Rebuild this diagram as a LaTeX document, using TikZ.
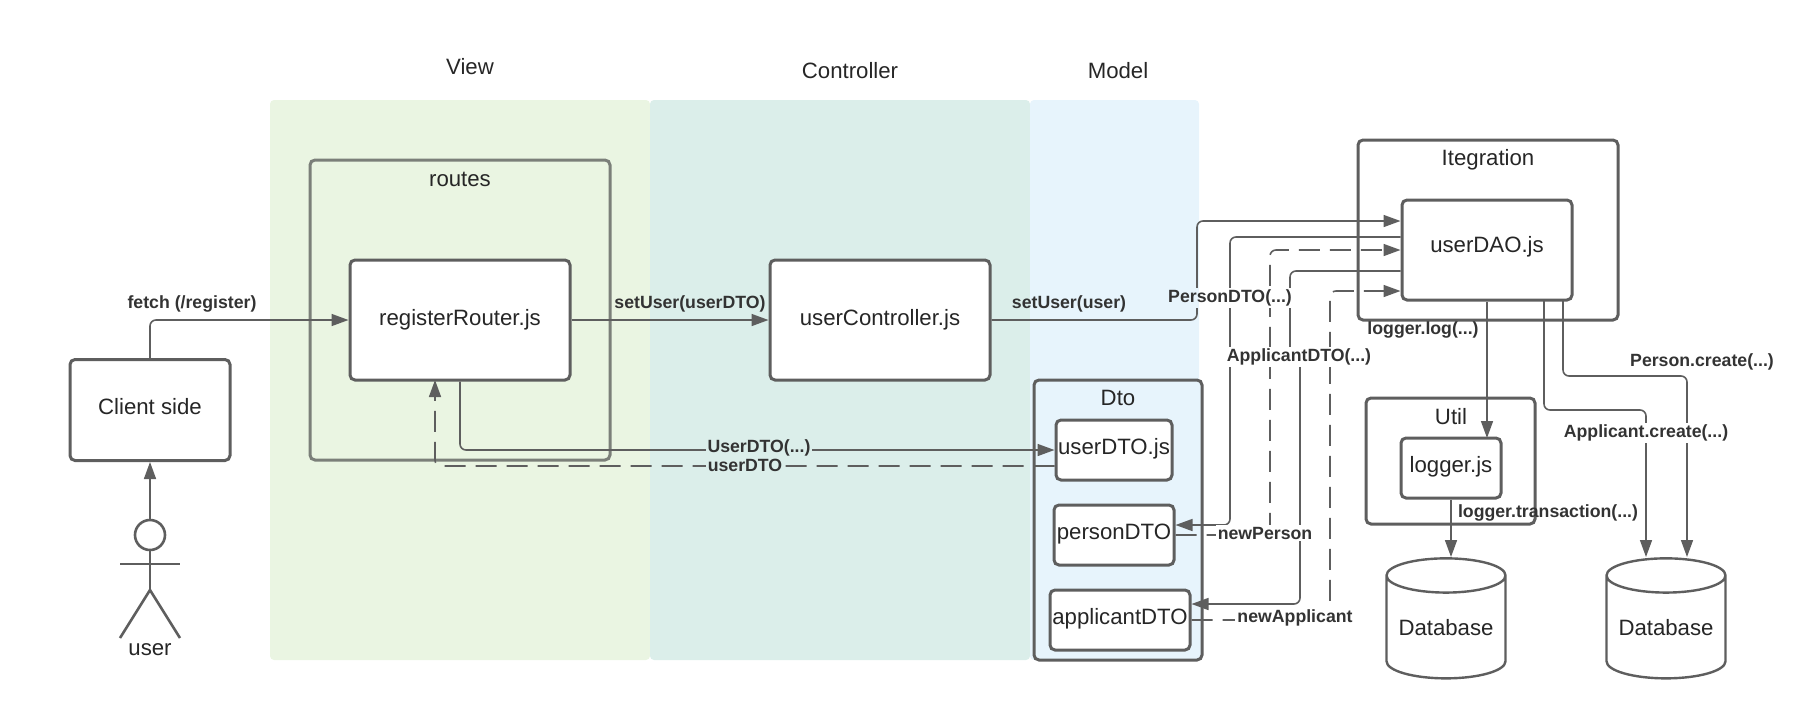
\documentclass[tikz,border=0pt]{standalone}
\usepackage{fontspec}
\setmainfont{Liberation Sans}
\usetikzlibrary{arrows.meta,positioning,shapes.geometric}
\definecolor{viewcol}{HTML}{EAF5E2}
\definecolor{ctrlcol}{HTML}{DBEEEA}
\definecolor{modelcol}{HTML}{E7F4FC}
\definecolor{linecol}{HTML}{5E5E5E}
\definecolor{routecol}{HTML}{7B7F79}
\tikzset{
	panel/.style={fill=#1,rounded corners=2pt},
	box/.style={draw=linecol,line width=1.5pt,fill=white,rounded corners=2.5pt,inner sep=0pt,font=\fontsize{11.1}{13}\selectfont,text=black!85},
	dtobox/.style={box,text depth=3.4pt},
	frame/.style={draw=linecol,line width=1.5pt,rounded corners=2.5pt},
	title/.style={inner sep=0pt,font=\fontsize{11.1}{13}\selectfont,text=black!85},
	conn/.style={draw=linecol,line width=.8pt,rounded corners=3pt,-{Triangle[length=8.5pt,width=6pt]}},
	call/.style={inner sep=1pt,font=\bfseries\fontsize{8.85}{10}\selectfont,text=black!80},
	dashline/.style={dash pattern=on 10.5pt off 5pt},
	actor/.style={draw=linecol,line width=1.3pt},
	dbase/.style={cylinder,shape border rotate=90,aspect=.36,draw=linecol,line width=1.2pt,fill=white,minimum width=59.5pt,minimum height=60pt,inner sep=0pt,font=\fontsize{11.1}{13}\selectfont,text=black!85}
}
\begin{document}
\begin{tikzpicture}[x=.5pt,y=-.5pt]
	\useasboundingbox (0,0) rectangle (1815,719);
	% layer panels
	\fill [panel=viewcol] (270,100) rectangle (650,660);
	\fill [panel=ctrlcol] (650,100) rectangle (1030,660);
	\fill [panel=modelcol] (1030,100) rectangle (1199,660);
	\node (viewlabel) [title] at (470,67) {View};
	\node (ctrllabel) [title] at (850,71) {Controller};
	\node (modellabel) [title] at (1118,71) {Model};

	% containers
	\draw [frame,draw=routecol] (310,160) rectangle (610,460);
	\node (routeslabel) [title] at (460,179) {routes};
	\draw [frame,fill=modelcol] (1034,380) rectangle (1202,660);
	\node (dtolabel) [title] at (1118,398) {Dto};
	\draw [frame] (1358,140) rectangle (1618,320);
	\node (integlabel) [title] at (1488,160) {Itegration};
	\draw [frame] (1366,398) rectangle (1535,524);
	\node (utillabel) [title] at (1451,417) {Util};

	% components
	\node (client) [box,minimum width=80pt,minimum height=50.5pt,text depth=3.5pt] at (150,410) {Client side};
	\node (router) [box,minimum width=110pt,minimum height=60pt] at (460,320) {registerRouter.js};
	\node (controller) [box,minimum width=110pt,minimum height=60pt] at (880,320) {userController.js};
	\node (userdao) [box,minimum width=85pt,minimum height=50pt,text depth=5.8pt] at (1487,250) {userDAO.js};
	\node (userdto) [dtobox,minimum width=58pt,minimum height=30pt] at (1114,450) {userDTO.js};
	\node (persondto) [dtobox,minimum width=60pt,minimum height=30pt] at (1114,535) {personDTO};
	\node (applicantdto) [dtobox,minimum width=70pt,minimum height=30pt] at (1120,620) {applicantDTO};
	\node (logger) [dtobox,minimum width=50pt,minimum height=30pt] at (1451,468) {logger.js};
	\node (dbone) [dbase] at (1446,627.5) {Database};
	\node (dbtwo) [dbase] at (1666,627.5) {Database};

	% actor
	\node (head) [circle,actor,minimum size=15pt,inner sep=0pt] at (150,535) {};
	\coordinate (hip) at (150,590);
	\draw [actor] (head.south) -- (hip);
	\draw [actor] (120,564) -- (180,564);
	\draw [actor] (120,638) -- (hip) -- (180,638);
	\node (userlabel) [title] at (150,650) {user};
	\draw [conn] (head.north) -- (client.south);

	% calls on the left
	\draw [conn] (client.north) |- (router.west);
	\node (fetchlabel) [call] at (192,304) {fetch (/register)};
	\draw [conn] (router.east) -- (controller.west);
	\node (setdtolabel) [call] at (690,304) {setUser(userDTO)};
	\draw [conn] (router.south) |- (userdto.west |- 0,450);
	\node (newdtolabel) [call,fill=ctrlcol] at (759,448) {UserDTO(...)};
	\draw [conn,dashline] (userdto.west |- 0,466) -| (435,380);
	\node (retdtolabel) [call,fill=ctrlcol] at (745,465) {userDTO};

	% calls to the dao
	\draw [conn] (controller.east) -| (1197,221) -- (userdao.west |- 0,221);
	\node (setuserlabel) [call] at (1069,304) {setUser(user)};
	\draw [conn] (userdao.west |- 0,237) -| (1230,525) -- (persondto.east |- 0,525);
	\draw [conn,dashline] (persondto.east) -| (1270,250) -- (userdao.west |- 0,250);
	\draw [conn] (userdao.west |- 0,271) -| (1290,356) -| (1300,604) -- (applicantdto.east |- 0,604);
	\draw [conn,dashline] (applicantdto.east) -| (1330,291) -- (userdao.west |- 0,291);
	\node (personlabel) [call,fill=white,path picture={\fill [modelcol] (path picture bounding box.north west) rectangle ([xshift=-15.5pt]path picture bounding box.south);}] at (1230,298) {PersonDTO(...)};
	\node (applicantlabel) [call,fill=white] at (1299,357) {ApplicantDTO(...)};
	\node (newpersonlabel) [call,fill=white] at (1265,533) {newPerson};
	\node (newapplabel) [call,fill=white] at (1295,618) {newApplicant};

	% calls below the dao
	\draw [conn] (userdao.south) -- (1487,438);
	\node (loglabel) [call] at (1423,330) {logger.log(...)};
	\draw [conn] (logger.south) -- (1451,557);
	\node (translabel) [call] at (1548,513) {logger.transaction(...)};
	\draw [conn] (1544,300) |- (1646,410) -- (1646,557);
	\draw [conn] (1563,300) |- (1687,376) -- (1687,557);
	\node (applabel) [call,fill=white] at (1646,433) {Applicant.create(...)};
	\node (perslabel) [call] at (1702,362) {Person.create(...)};
\end{tikzpicture}
\end{document}
